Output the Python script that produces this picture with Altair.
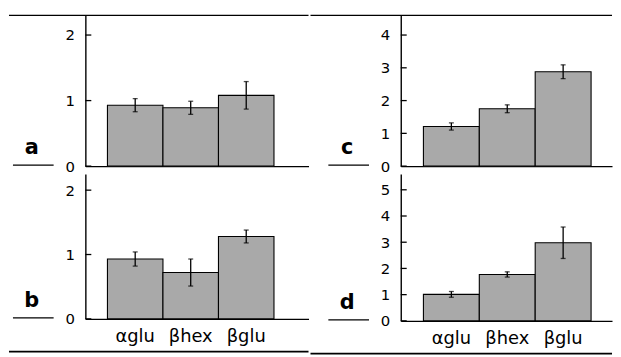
import altair as alt
import pandas as pd

cats = ["αglu", "βhex", "βglu"]

a_vals = [0.93, 0.89, 1.08]
a_errs = [0.10, 0.10, 0.21]
b_vals = [0.93, 0.72, 1.28]
b_errs = [0.11, 0.21, 0.10]
c_vals = [1.21, 1.75, 2.88]
c_errs = [0.11, 0.12, 0.21]
d_vals = [1.01, 1.77, 2.98]
d_errs = [0.11, 0.10, 0.60]

ab_ticks = [0, 1, 2]
c_ticks = [0, 1, 2, 3, 4]
d_ticks = [0, 1, 2, 3, 4, 5]

FONT = "DejaVu Sans"
INK = "black"
BAR_FILL = "#a9a9a9"


def one():
    return alt.Chart(pd.DataFrame({"k": [0]}))


def panel(letter, vals, errs, ticks, ymax, width, height, show_x,
          pad_outer, band_align, left_end, top_line, bottom_line):
    df = pd.DataFrame({
        "cat": cats,
        "v": vals,
        "lo": [v - e for v, e in zip(vals, errs)],
        "hi": [v + e for v, e in zip(vals, errs)],
    })
    xs = alt.Scale(domain=cats, paddingInner=0, paddingOuter=pad_outer, align=band_align)
    xa = alt.Axis(title=None, labels=show_x, ticks=False, tickSize=0, domain=True,
                  domainColor=INK, domainWidth=1.4, labelAngle=0, labelFont=FONT,
                  labelFontSize=18, labelColor=INK, labelPadding=9, grid=False,
                  minExtent=0, offset=0)
    ys = alt.Scale(domain=[0, ymax], nice=False, zero=True)
    ya = alt.Axis(title=None, values=ticks, ticks=False, tickSize=0, domain=True,
                  domainColor=INK, domainWidth=1.4, labelFont=FONT, labelFontSize=15,
                  labelColor=INK, labelPadding=11, grid=False, format="d")

    def X(f="cat"):
        return alt.X(f"{f}:N", scale=xs, axis=xa, sort=cats)

    def Y(f):
        return alt.Y(f"{f}:Q", scale=ys, axis=ya)

    base = alt.Chart(df)
    bars = base.mark_bar(fill=BAR_FILL, stroke=INK, strokeWidth=1.1).encode(x=X(), y=Y("v"))
    err = base.mark_rule(color=INK, strokeWidth=1.3).encode(x=X(), y=Y("lo"), y2="hi:Q")
    cap_hi = base.mark_tick(orient="horizontal", size=5, thickness=1.3, color=INK).encode(x=X(), y=Y("hi"))
    cap_lo = base.mark_tick(orient="horizontal", size=5, thickness=1.3, color=INK).encode(x=X(), y=Y("lo"))

    tdf = pd.DataFrame({"t": ticks})
    yticks = alt.Chart(tdf).mark_rule(color=INK, strokeWidth=1.3).encode(
        y=Y("t"), x=alt.value(0), x2=alt.value(6))

    lab = one().mark_text(text=letter, font=FONT, fontSize=21, fontWeight="bold",
                          color=INK, align="center", baseline="alphabetic").encode(
        x=alt.value(-54), y=alt.value(height - 12))
    dash = one().mark_rule(color=INK, strokeWidth=1.4).encode(
        x=alt.value(-73), x2=alt.value(-32), y=alt.value(height - 1))

    layers = [bars, err, cap_hi, cap_lo, yticks, lab, dash]
    if top_line:
        layers.append(one().mark_rule(color=INK, strokeWidth=1.3).encode(
            x=alt.value(left_end), x2=alt.value(width), y=alt.value(0)))
    if bottom_line:
        layers.append(one().mark_rule(color=INK, strokeWidth=1.7).encode(
            x=alt.value(left_end), x2=alt.value(width), y=alt.value(height + 33)))
    return alt.layer(*layers).properties(width=width, height=height)


pa = panel("a", a_vals, a_errs, ab_ticks, 2.3, 225, 152, False, 0.51, 0.39, -77, True, False)
pb = panel("b", b_vals, b_errs, ab_ticks, 2.25, 225, 146, True, 0.51, 0.39, -77, False, True)
pc = panel("c", c_vals, c_errs, c_ticks, 4.6, 213, 152, False, 0.39, 0.52, -91, True, False)
pd_ = panel("d", d_vals, d_errs, d_ticks, 5.6, 213, 148, True, 0.39, 0.52, -91, False, True)

left = alt.vconcat(pa, pb, spacing=0)
right = alt.vconcat(pc, pd_, spacing=0)

chart = alt.hconcat(left, right, spacing=0).properties(
    padding={"left": 0, "top": 5, "right": 0, "bottom": 0},
    background="white",
).configure_view(stroke="transparent", strokeWidth=0)

chart.save("out.html", embed_options={"renderer": "svg", "actions": False})
